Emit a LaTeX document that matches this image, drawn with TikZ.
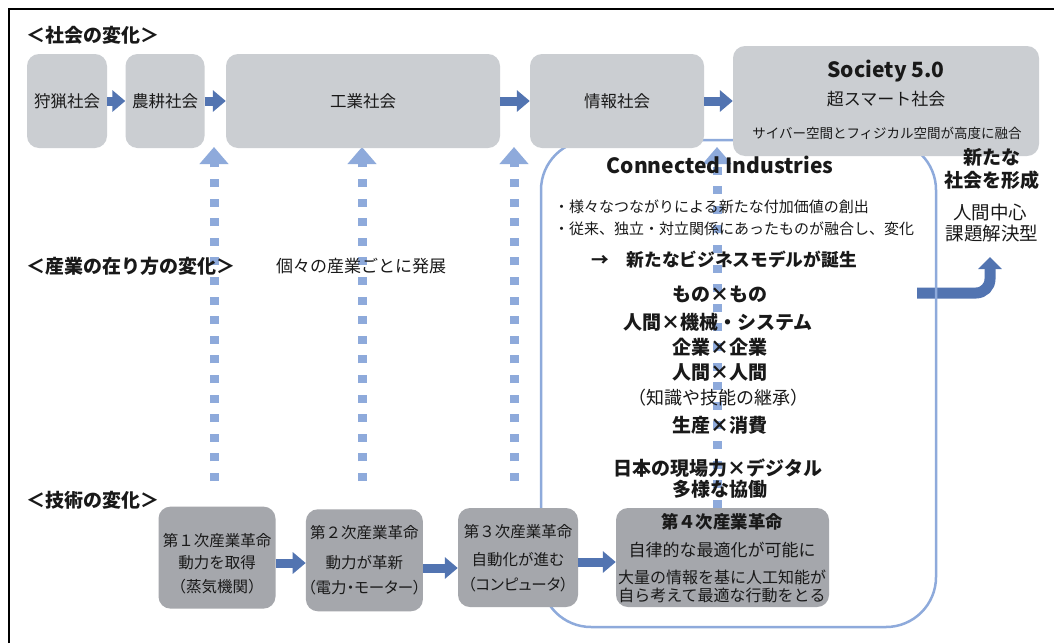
\documentclass[tikz,border=0pt]{standalone}
\usepackage{fontspec}
\setmainfont{Noto Sans CJK JP}
\usetikzlibrary{arrows.meta}
\definecolor{boxlight}{RGB}{203,206,210}
\definecolor{boxdark}{RGB}{165,167,172}
\definecolor{arrowblue}{RGB}{82,116,177}
\definecolor{dotblue}{RGB}{142,170,219}
\definecolor{txtcol}{RGB}{25,25,25}
\newcommand\jfs[1]{\fontsize{#1}{#1}\selectfont}
\newcommand\palfeat{\addfontfeatures{RawFeature=+palt}}
\begin{document}
\begin{tikzpicture}[x=1pt,y=-1pt,
  socbox/.style={fill=boxlight, rounded corners=12pt, inner sep=0pt, text=txtcol},
  techbox/.style={fill=boxdark, rounded corners=12pt, inner sep=0pt},
  blockarrow/.style={draw=arrowblue, line width=9pt, -{Triangle[length=13pt,width=21pt]}},
  dotarrow/.style={draw=dotblue, line width=9pt, dash pattern=on 8pt off 11.6pt, -{Triangle[length=17pt,width=28pt]}},
  lbl/.style={inner sep=0pt, text=txtcol},
  hdr/.style={lbl, anchor=west, font=\bfseries\jfs{19}},
]
\useasboundingbox (0,0) rectangle (1054,643);
\fill[white] (0,0) rectangle (1054,643);
\draw[line width=2pt] (8.5,643) -- (8.5,8.5) -- (1054,8.5);

% curved arrow to new society
\coordinate (cstart) at (917,293);
\coordinate (cend) at (990,257);
\draw[draw=arrowblue, line width=11pt, rounded corners=14pt, -{Triangle[length=12pt,width=23pt]}] (cstart) -| (cend);

% Connected Industries frame
\node[draw=dotblue, line width=2.5pt, rounded corners=50pt, minimum width=395pt, minimum height=487pt, inner sep=0pt] (ci) at (738.5,383.5) {};

% tech boxes
\node[techbox, minimum width=117pt, minimum height=102pt] (t1) at (217,557.6) {};
\node[techbox, minimum width=117pt, minimum height=102pt] (t2) at (364.4,560.3) {};
\node[techbox, minimum width=120pt, minimum height=99pt] (t3) at (518,557.5) {};
\node[techbox, minimum width=213pt, minimum height=99pt] (t4) at (722.5,557.5) {};

% dotted arrows
\coordinate (d1b) at (214,481); \coordinate (d1t) at (214,147);
\coordinate (d2b) at (362,481); \coordinate (d2t) at (362,147);
\coordinate (d3b) at (514,481); \coordinate (d3t) at (514,147);
\coordinate (d4t) at (717,147);
\draw[dotarrow] (d1b) -- (d1t);
\draw[dotarrow] (d2b) -- (d2t);
\draw[dotarrow] (d3b) -- (d3t);
\draw[dotarrow] (t4.north -| d4t) -- (d4t);

% top row
\node[socbox, minimum width=80pt, minimum height=94pt, font=\jfs{16.5}] (hunt) at (67,101) {狩猟社会};
\node[socbox, minimum width=79pt, minimum height=94pt, font=\jfs{16.5}] (agri) at (165,101) {農耕社会};
\node[socbox, minimum width=274pt, minimum height=94pt, font=\jfs{16.5}] (ind) at (363,101) {工業社会};
\node[socbox, minimum width=174pt, minimum height=94pt, font=\jfs{16.5}] (info) at (617,101) {情報社会};
\node[socbox, minimum width=306pt, minimum height=110pt] (soc) at (886,101) {};
\node[lbl, font=\bfseries\jfs{21}] (socA) at (886,71) {Society 5.0};
\node[lbl, font=\jfs{17}] (socB) at (886,99) {超スマート社会};
\node[lbl, font=\jfs{13.5}] (socC) at (887,133) {サイバー空間とフィジカル空間が高度に融合};

\draw[blockarrow] (hunt.east) -- (agri.west);
\draw[blockarrow] (agri.east) -- (ind.west);
\draw[blockarrow] (ind.east) -- (info.west);
\draw[blockarrow] (info.east) -- (info.east -| soc.west);

% headers
\node[hdr] (h1) at (26,35) {＜社会の変化＞};
\node[hdr] (h2) at (26,266) {＜産業の在り方の変化＞};
\node[hdr] (h3) at (26,500) {＜技術の変化＞};
\node[lbl, anchor=west, font=\jfs{17}] (indiv) at (276,266) {個々の産業ごとに発展};

% Connected Industries contents
\node[lbl, font=\bfseries\jfs{21}] (ciT) at (720,165) {Connected Industries};
\node[lbl, anchor=west, font=\jfs{15}] (b1) at (554,207) {・様々なつながりによる新たな付加価値の創出};
\node[lbl, anchor=west, font=\jfs{15}] (b2) at (554,229) {・従来、独立・対立関係にあったものが融合し、変化};
\node[lbl, font=\bfseries\jfs{17.7}] (b3) at (724,260) {→　新たなビジネスモデルが誕生};
\node[lbl, font=\bfseries\jfs{19}] (m1) at (720,294) {もの×もの};
\node[lbl, font=\bfseries\jfs{19}] (m2) at (718,322) {人間×機械・システム};
\node[lbl, font=\bfseries\jfs{19}] (m3) at (720,347) {企業×企業};
\node[lbl, font=\bfseries\jfs{19}] (m4) at (720,372) {人間×人間};
\node[lbl, font=\jfs{18}] (m5) at (718,398) {（知識や技能の継承）};
\node[lbl, font=\bfseries\jfs{19}] (m6) at (720,425) {生産×消費};
\node[lbl, font=\bfseries\jfs{19}] (m7) at (718,468) {日本の現場力×デジタル};
\node[lbl, font=\bfseries\jfs{19}] (m8) at (720,489) {多様な協働};

% right column
\node[lbl, font=\bfseries\jfs{19}] (r1) at (992,157) {新たな};
\node[lbl, font=\bfseries\jfs{19}] (r2) at (992,180) {社会を形成};
\node[lbl, font=\jfs{18.5}] (r3) at (990,212) {人間中心};
\node[lbl, font=\jfs{18.5}] (r4) at (992,233) {課題解決型};

% tech texts
\node[lbl, font=\jfs{15.5}] (t1a) at (217,541) {第１次産業革命};
\node[lbl, font=\jfs{15.5}] (t1b) at (217,563) {動力を取得};
\node[lbl, font=\jfs{15.5}] (t1c) at (217,587) {（蒸気機関）};
\node[lbl, font=\jfs{15.5}] (t2a) at (364.4,533) {第２次産業革命};
\node[lbl, font=\jfs{15.5}] (t2b) at (364.4,562.5) {動力が革新};
\node[lbl, font=\jfs{15.5}\palfeat] (t2c) at (364.4,588) {（電力・モーター）};
\node[lbl, font=\jfs{15.5}] (t3a) at (518,532) {第３次産業革命};
\node[lbl, font=\jfs{15.5}] (t3b) at (518,560) {自動化が進む};
\node[lbl, font=\jfs{15.5}\palfeat] (t3c) at (518,585) {（コンピュータ）};
\node[lbl, font=\bfseries\jfs{17.4}] (t4a) at (722,522) {第４次産業革命};
\node[lbl, font=\jfs{17}] (t4b) at (722,550) {自律的な最適化が可能に};
\node[lbl, font=\jfs{16}] (t4c) at (722,577) {大量の情報を基に人工知能が};
\node[lbl, font=\jfs{16}] (t4d) at (722,595) {自ら考えて最適な行動をとる};

% tech arrows
\draw[blockarrow] ([yshift=-5.4pt]t1.east) coordinate (a12) -- (a12 -| t2.west);
\draw[blockarrow] ([yshift=-7.7pt]t2.east) coordinate (a23) -- (a23 -| t3.west);
\draw[blockarrow] ([yshift=-4.5pt]t3.east) coordinate (a34) -- (a34 -| t4.west);
\end{tikzpicture}
\end{document}
